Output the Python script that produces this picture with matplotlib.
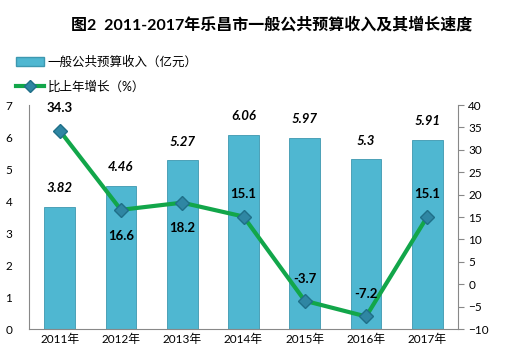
import matplotlib
matplotlib.use("Agg")
import matplotlib.pyplot as plt
from matplotlib.lines import Line2D
from matplotlib.patches import Patch

plt.rcParams['font.family'] = ['Lato', 'Noto Sans CJK SC', 'DejaVu Sans']

years = ['2011年', '2012年', '2013年', '2014年', '2015年', '2016年', '2017年']
income = [3.82, 4.46, 5.27, 6.06, 5.97, 5.3, 5.91]
growth = [34.3, 16.6, 18.2, 15.1, -3.7, -7.2, 15.1]
growth_above = [True, False, False, True, True, True, True]

bar_color = '#4fb7d1'
line_color = '#12a64a'
marker_color = '#2f86a3'

fig = plt.figure(figsize=(5.12, 3.63), dpi=100)
ax = fig.add_axes([29/512, 1 - 329/363, (458-29)/512, (329-105)/363])
x = range(len(years))
ax.bar(x, income, width=0.5, color=bar_color, edgecolor='#3d98b0', linewidth=0.6, zorder=2)
ax.set_ylim(0, 7)
ax.set_xlim(-0.5, 6.5)
ax.set_xticks(list(x))
ax.set_xticklabels(years, fontsize=8.5)
ax.set_yticks(range(0, 8))
ax.tick_params(axis='both', labelsize=8.5, length=0)
ax.tick_params(axis='y', pad=12)
for s in ['top', 'right']:
    ax.spines[s].set_visible(False)
ax.spines['left'].set_color('#888888')
ax.spines['bottom'].set_color('#888888')
for i, v in enumerate(income):
    ax.text(i, v + 0.4, f'{v:g}', ha='center', va='bottom', fontsize=9.5,
            fontweight='bold', style='italic')

ax2 = ax.twinx()
ax2.plot(list(x), growth, color=line_color, linewidth=3, zorder=3)
ax2.plot(list(x), growth, linestyle='none', marker='D', markersize=7,
         color=marker_color, markeredgecolor='#1f6f88', zorder=4)
ax2.set_ylim(-10, 40)
ax2.set_yticks(range(-10, 45, 5))
ax2.tick_params(axis='y', labelsize=8.5, direction='out', length=4, color='#888888')
for s in ['top', 'left', 'bottom']:
    ax2.spines[s].set_visible(False)
ax2.spines['right'].set_color('#888888')
for i, v in enumerate(growth):
    if growth_above[i]:
        ax2.text(i, v + 3.6, f'{v:g}', ha='center', va='bottom', fontsize=9.5, fontweight='bold')
    else:
        ax2.text(i, v - 4.4, f'{v:g}', ha='center', va='top', fontsize=9.5, fontweight='bold')

fig.text(272/512, 1 - 25/363, '图2  2011-2017年乐昌市一般公共预算收入及其增长速度',
         ha='center', va='center', fontsize=11.5, fontweight='bold')

handles = [Patch(facecolor=bar_color, edgecolor='#3d98b0'),
           Line2D([0], [0], color=line_color, linewidth=3, marker='D', markersize=6,
                  markerfacecolor=marker_color, markeredgecolor='#1f6f88')]
fig.legend(handles, ['一般公共预算收入（亿元）', '比上年增长（%）'],
           loc='upper left', bbox_to_anchor=(5/512, 1 - 44/363), frameon=False,
           fontsize=9, handlelength=2.2, handletextpad=0.3, labelspacing=1.0)

fig.savefig('out.png', dpi=100)
